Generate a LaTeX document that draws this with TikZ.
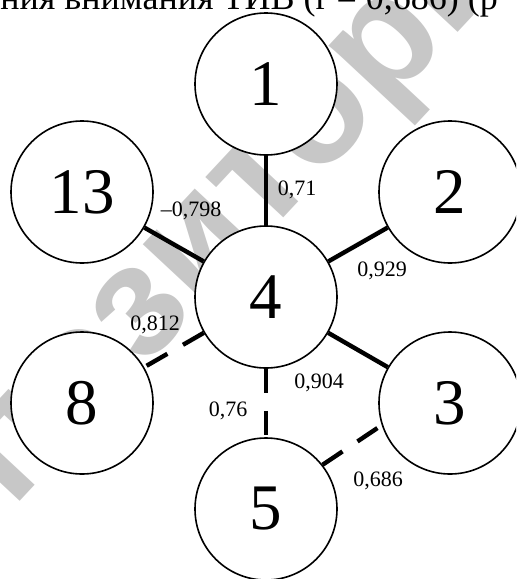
\documentclass[tikz,border=0pt]{standalone}
\usepackage{fontspec}
\setmainfont{Liberation Serif}
\newfontfamily\wmfont{Liberation Sans}
\usetikzlibrary{positioning}

\tikzset{
  vtx/.style={circle, draw, fill=white, line width=0.8pt, inner sep=0pt,
    minimum size=71pt, font=\fontsize{32.5}{33}\selectfont},
  lnk/.style={line width=2.2pt},
  lnkd/.style={lnk, dash pattern=on 12pt off 9pt},
  coef/.style={font=\fontsize{11}{12}\selectfont, inner sep=0pt}
}

\begin{document}
\begin{tikzpicture}[x=0.5pt, y=-0.5pt]
  \useasboundingbox (0, 0) rectangle (516, 579);
  \clip (0, 0) rectangle (516, 579);
  % watermark, heading cut at the top
  \node (wm)[rotate=47, anchor=base west, inner sep=0pt, text=black!22,
    font=\wmfont\bfseries\fontsize{80}{80}\selectfont] at (12, 510) {позитори};
  \node (hd)[anchor=base west, inner sep=0pt,
    font=\fontsize{18}{18}\selectfont] at (0, 9) {ния внимания ТИВ (r = 0,686) (p};

  \node (c1)[vtx] at (266, 84) {1};
  \node (c13)[vtx] at (82, 192) {13};
  \node (c2)[vtx] at (450, 192) {2};
  \node (c4)[vtx] at (266, 297) {4};
  \node (c8)[vtx] at (82, 403) {8};
  \node (c3)[vtx] at (450, 403) {3};
  \node (c5)[vtx] at (266, 509) {5};

  \draw[lnk] (c1) -- (c4);
  \foreach \n in {13,2,3}
    \draw[lnk] (c4) -- (c\n);
  \foreach \n in {8,5}
    \draw[lnkd] (c4) -- (c\n);
  \draw[lnkd] (c5.38) -- (c3.198);

  \node (w1)[coef] at (297, 190) {0,71};
  \node (w13)[coef] at (191, 211) {–0,798};
  \node (w2)[coef] at (382, 271) {0,929};
  \node (w3)[coef] at (319, 383) {0,904};
  \node (w8)[coef] at (155, 325) {0,812};
  \node (w5)[coef] at (228, 411) {0,76};
  \node (w35)[coef] at (378, 481) {0,686};
\end{tikzpicture}
\end{document}
